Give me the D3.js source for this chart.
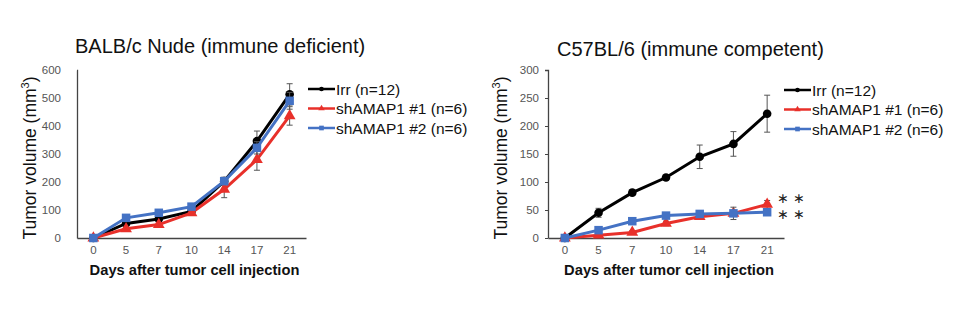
<!DOCTYPE html>
<html>
<head>
<meta charset="utf-8">
<script src="https://cdn.jsdelivr.net/npm/d3@7"></script>
<style>
  body { margin: 0; background: #fff; }
  svg text { font-family: "Liberation Sans", Arial, sans-serif; }
</style>
</head>
<body>
<svg id="fig" width="978" height="330"></svg>
<script>
// days after injection (categorical x axis)
const days = ["0", "5", "7", "10", "14", "17", "21"]
const seriesNames = ["Irr (n=12)", "shAMAP1 #1 (n=6)", "shAMAP1 #2 (n=6)"]
const colors = ["#000000", "#e8302a", "#4472c4"]
const shapes = ["circle", "triangle", "square"]

// BALB/c nude
const nudeIrr = [0, 52, 68, 95, 203, 346, 513]
const nudeSh1 = [0, 33, 48, 90, 174, 280, 436]
const nudeSh2 = [0, 72, 90, 112, 203, 322, 490]
const nudeIrrErr = [0, 6, 8, 8, 14, 36, 38]
const nudeSh1Err = [0, 5, 6, 8, 30, 38, 33]
const nudeSh2Err = [0, 6, 7, 8, 12, 22, 30]

// C57BL/6
const c57Irr = [0, 45, 81, 108, 145, 168, 222]
const c57Sh1 = [0, 5, 10, 26, 38, 44, 60]
const c57Sh2 = [0, 14, 30, 40, 43, 44, 46]
const c57IrrErr = [0, 8, 5, 4, 21, 22, 33]
const c57Sh1Err = [0, 2, 3, 4, 4, 5, 7]
const c57Sh2Err = [0, 3, 3, 4, 4, 11, 5]

const nudeTicks = [0, 100, 200, 300, 400, 500, 600]
const c57Ticks = [0, 50, 100, 150, 200, 250, 300]

const svg = d3.select("#fig")

function panel(opts) {
    const g = svg.append("g")
    let x = d3.scaleBand().domain(days).range([opts.x0, opts.x1])
    let y = d3.scaleLinear().domain([0, opts.ymax]).range([238, 70])
    let cx = d => x(d) + x.bandwidth() / 2

    // title
    g.append("text")
        .attr("x", opts.titleX).attr("y", opts.titleY)
        .attr("font-size", 20).attr("fill", "#111")
        .text(opts.title)

    // y axis
    let ya = g.append("g")
        .attr("transform", "translate(" + opts.x0 + ",0)")
        .call(d3.axisLeft(y).tickValues(opts.ticks).tickSize(opts.tickLen).tickPadding(opts.tickPad))
    ya.select(".domain").attr("stroke", "#444").attr("stroke-width", 1.3)
        .attr("d", "M" + (-opts.tickLen) + ",70.5H0.5V238.5")
    ya.selectAll(".tick line").attr("stroke", "#444")
    ya.selectAll("text").attr("font-size", 11.5).attr("fill", "#555")
        .attr("font-family", "Liberation Sans, Arial, sans-serif")

    // x axis
    let xa = g.append("g")
        .attr("transform", "translate(0,238)")
        .call(d3.axisBottom(x).tickSize(0).tickPadding(8))
    xa.select(".domain").attr("stroke", "#444").attr("stroke-width", 1.3)
    xa.selectAll("text").attr("font-size", 11.5).attr("fill", "#555")
        .attr("font-family", "Liberation Sans, Arial, sans-serif")

    // axis titles
    let yt = g.append("text")
        .attr("transform", "translate(" + (opts.x0 - 41) + ",158) rotate(-90)")
        .attr("text-anchor", "middle")
        .attr("font-size", 17.5).attr("fill", "#111")
    yt.append("tspan").text("Tumor volume (mm")
    yt.append("tspan").attr("font-size", 11).attr("dy", -7).text("3")
    yt.append("tspan").attr("dy", 7).text(")")

    g.append("text")
        .attr("x", (opts.x0 + opts.x1) / 2 + 3).attr("y", 275)
        .attr("text-anchor", "middle")
        .attr("font-size", 14.7).attr("font-weight", "bold").attr("fill", "#111")
        .text("Days after tumor cell injection")

    let line = d3.line().x((d, i) => cx(days[i])).y(d => y(d))

    opts.series.forEach((vals, s) => {
        let errs = opts.errs[s]
        // error bars
        let eb = g.append("g").attr("stroke", "#555").attr("stroke-width", 1)
        vals.forEach((v, i) => {
            if (!errs[i]) return
            let px = cx(days[i])
            eb.append("line").attr("x1", px).attr("x2", px).attr("y1", y(v - errs[i])).attr("y2", y(v + errs[i]))
            eb.append("line").attr("x1", px - 3).attr("x2", px + 3).attr("y1", y(v - errs[i])).attr("y2", y(v - errs[i]))
            eb.append("line").attr("x1", px - 3).attr("x2", px + 3).attr("y1", y(v + errs[i])).attr("y2", y(v + errs[i]))
        })
        g.append("path").datum(vals)
            .attr("d", line)
            .attr("fill", "none")
            .attr("stroke", colors[s])
            .attr("stroke-width", 3)
        vals.forEach((v, i) => marker(g, shapes[s], cx(days[i]), y(v), colors[s], 1))
    })

    // legend
    seriesNames.forEach((name, s) => {
        let ly = opts.legY + s * 19.5
        g.append("line").attr("x1", opts.legX).attr("x2", opts.legX + 27)
            .attr("y1", ly).attr("y2", ly)
            .attr("stroke", colors[s]).attr("stroke-width", 2.5)
        marker(g, shapes[s], opts.legX + 13.5, ly, colors[s], 0.55)
        g.append("text")
            .attr("x", opts.legX + 28).attr("y", ly + 5.5)
            .attr("font-size", 15.5).attr("fill", "#111")
            .attr("font-family", "Open Sans, Noto Sans, sans-serif")
            .text(name)
    })
    return { x: x, y: y, g: g }
}

function marker(g, shape, px, py, color, k) {
    if (shape == "circle") {
        g.append("circle").attr("cx", px).attr("cy", py).attr("r", 4.3 * k).attr("fill", color)
    } else if (shape == "square") {
        let s = 8.5 * k
        g.append("rect").attr("x", px - s / 2).attr("y", py - s / 2).attr("width", s).attr("height", s).attr("fill", color)
    } else {
        g.append("path").attr("d", d3.symbol(d3.symbolTriangle, 60 * k * k)()).attr("transform", "translate(" + px + "," + py + ")").attr("fill", color)
    }
}

panel({
    title: "BALB/c Nude (immune deficient)", titleX: 75, titleY: 53,
    x0: 77, x1: 306, ymax: 600, ticks: nudeTicks, tickLen: 0, tickPad: 16,
    series: [nudeIrr, nudeSh1, nudeSh2], errs: [nudeIrrErr, nudeSh1Err, nudeSh2Err],
    legX: 308, legY: 89
})

let right = panel({
    title: "C57BL/6 (immune competent)", titleX: 557, titleY: 56,
    x0: 548, x1: 784, ymax: 300, ticks: c57Ticks, tickLen: 3, tickPad: 6,
    series: [c57Irr, c57Sh1, c57Sh2], errs: [c57IrrErr, c57Sh1Err, c57Sh2Err],
    legX: 784, legY: 90
})

// significance marks next to the last points
let y1 = right.y(c57Sh1[6]) - 1
let y2 = right.y(c57Sh2[6]) + 7
;[y1, y2].forEach(yy => {
    right.g.append("text")
        .attr("x", 777).attr("y", yy)
        .attr("font-size", 13.5).attr("font-family", "DejaVu Sans, sans-serif")
        .attr("fill", "#222")
        .text("\u2217 \u2217")
})
</script>
</body>
</html>
